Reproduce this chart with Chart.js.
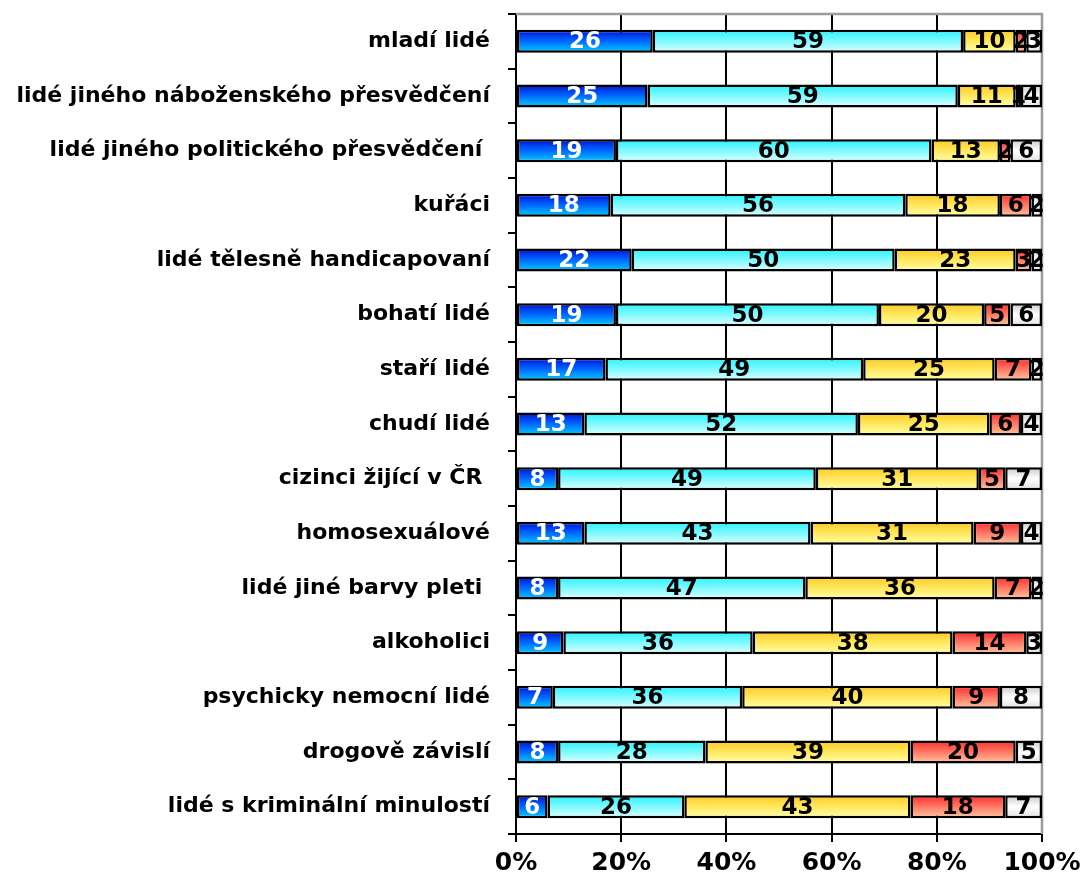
<!DOCTYPE html>
<html>
<head>
<meta charset="utf-8">
<script src="https://cdn.jsdelivr.net/npm/chart.js@4/dist/chart.umd.min.js"></script>
<style>
html,body{margin:0;padding:0;background:#fff;}
#wrap{width:1082px;height:877px;position:relative;}
</style>
</head>
<body>
<div id="wrap"><canvas id="c" width="1082" height="877"></canvas></div>
<script>
const categories = [
  "mladí lidé",
  "lidé jiného náboženského přesvědčení",
  "lidé jiného politického přesvědčení ",
  "kuřáci",
  "lidé tělesně handicapovaní",
  "bohatí lidé",
  "staří lidé",
  "chudí lidé",
  "cizinci žijící v ČR ",
  "homosexuálové",
  "lidé jiné barvy pleti ",
  "alkoholici",
  "psychicky nemocní lidé",
  "drogově závislí",
  "lidé s kriminální minulostí"
];
const series1 = [26, 25, 19, 18, 22, 19, 17, 13, 8, 13, 8, 9, 7, 8, 6];
const series2 = [59, 59, 60, 56, 50, 50, 49, 52, 49, 43, 47, 36, 36, 28, 26];
const series3 = [10, 11, 13, 18, 23, 20, 25, 25, 31, 31, 36, 38, 40, 39, 43];
const series4 = [2, 1, 2, 6, 3, 5, 7, 6, 5, 9, 7, 14, 9, 20, 18];
const series5 = [3, 4, 6, 2, 2, 6, 2, 4, 7, 4, 2, 3, 8, 5, 7];
const xTicks = [0, 20, 40, 60, 80, 100];

const FONT = "'DejaVu Sans', Verdana, sans-serif";
const BAR_FRAC = 0.42;

function grad(stops, fallback) {
  return (ctx) => {
    const chart = ctx.chart;
    const ca = chart.chartArea;
    const ys = chart.scales.y;
    if (!ca || !ys) return fallback;
    const yc = ys.getPixelForValue(ctx.dataIndex);
    const h = (ca.bottom - ca.top) / categories.length * BAR_FRAC;
    const g = chart.ctx.createLinearGradient(0, yc - h / 2, 0, yc + h / 2);
    stops.forEach(s => g.addColorStop(s[0], s[1]));
    return g;
  };
}

const palettes = [
  [[0, '#0010d0'], [0.45, '#0060ff'], [1, '#00d0ff']],
  [[0, '#22f4ff'], [1, '#e0ffff']],
  [[0, '#ffc820'], [0.5, '#ffe860'], [1, '#ffffa8']],
  [[0, '#ff2a2a'], [1, '#ffc8a0']],
  [[0, '#c8c8c8'], [0.5, '#ffffff'], [1, '#e0e0e0']]
];
const fallbacks = ['#0066ff', '#99ffff', '#ffe060', '#ff8060', '#eeeeee'];
const allSeries = [series1, series2, series3, series4, series5];

const datasets = allSeries.map((d, i) => ({
  label: 'S' + (i + 1),
  data: d,
  backgroundColor: grad(palettes[i], fallbacks[i]),
  borderColor: '#000',
  borderWidth: 2.5,
  borderSkipped: false,
  categoryPercentage: 1,
  barPercentage: BAR_FRAC
}));

const labelPlugin = {
  id: 'segLabels',
  afterDatasetsDraw(chart) {
    const ctx = chart.ctx;
    ctx.save();
    ctx.font = "bold 23px " + FONT;
    ctx.textAlign = 'center';
    ctx.textBaseline = 'middle';
    chart.data.datasets.forEach((ds, di) => {
      const meta = chart.getDatasetMeta(di);
      meta.data.forEach((el, i) => {
        const p = el.getProps(['x', 'y', 'base'], true);
        const cx = (p.x + p.base) / 2;
        ctx.fillStyle = di === 0 ? '#ffffff' : '#000000';
        ctx.fillText(String(ds.data[i]), cx, p.y + 1);
      });
    });
    ctx.restore();
  }
};

const framePlugin = {
  id: 'frame',
  beforeDatasetsDraw(chart) {
    const ca = chart.chartArea;
    const ctx = chart.ctx;
    ctx.save();
    ctx.strokeStyle = '#9a9a9a';
    ctx.lineWidth = 2.5;
    ctx.beginPath();
    ctx.moveTo(ca.left, ca.top);
    ctx.lineTo(ca.right, ca.top);
    ctx.lineTo(ca.right, ca.bottom);
    ctx.stroke();
    ctx.restore();
  }
};

new Chart(document.getElementById('c'), {
  type: 'bar',
  data: { labels: categories, datasets: datasets },
  plugins: [framePlugin, labelPlugin],
  options: {
    indexAxis: 'y',
    responsive: false,
    animation: false,
    devicePixelRatio: 1,
    layout: { padding: { left: 0, right: 40, top: 14, bottom: 0 } },
    plugins: { legend: { display: false }, tooltip: { enabled: false } },
    scales: {
      x: {
        stacked: true,
        min: 0,
        max: 100,
        afterBuildTicks(scale) { scale.ticks = xTicks.map(v => ({ value: v })); },
        afterFit(scale) {
          scale.height = 43;
          scale.paddingLeft = 0; scale.paddingRight = 0;
          scale.paddingTop = 0; scale.paddingBottom = 0;
        },
        ticks: {
          callback: v => v + '%',
          color: '#000',
          font: { family: FONT, size: 25, weight: 'bold' },
          padding: 6,
          maxRotation: 0
        },
        grid: {
          color: ctx => (ctx.tick && ctx.tick.value === 100) ? '#9a9a9a' : '#000',
          tickColor: '#000',
          lineWidth: 2,
          tickLength: 8
        },
        border: { color: '#000', width: 2 }
      },
      y: {
        stacked: true,
        afterFit(scale) {
          scale.width = 516;
          scale.paddingTop = 0; scale.paddingBottom = 0;
          scale.paddingLeft = 0; scale.paddingRight = 0;
        },
        ticks: {
          color: '#000',
          font: { family: FONT, size: 22, weight: 'bold' },
          padding: 18,
          autoSkip: false
        },
        grid: {
          offset: true,
          drawOnChartArea: false,
          color: '#000',
          lineWidth: 2,
          tickLength: 8
        },
        border: { color: '#000', width: 2 }
      }
    }
  }
});
</script>
</body>
</html>
